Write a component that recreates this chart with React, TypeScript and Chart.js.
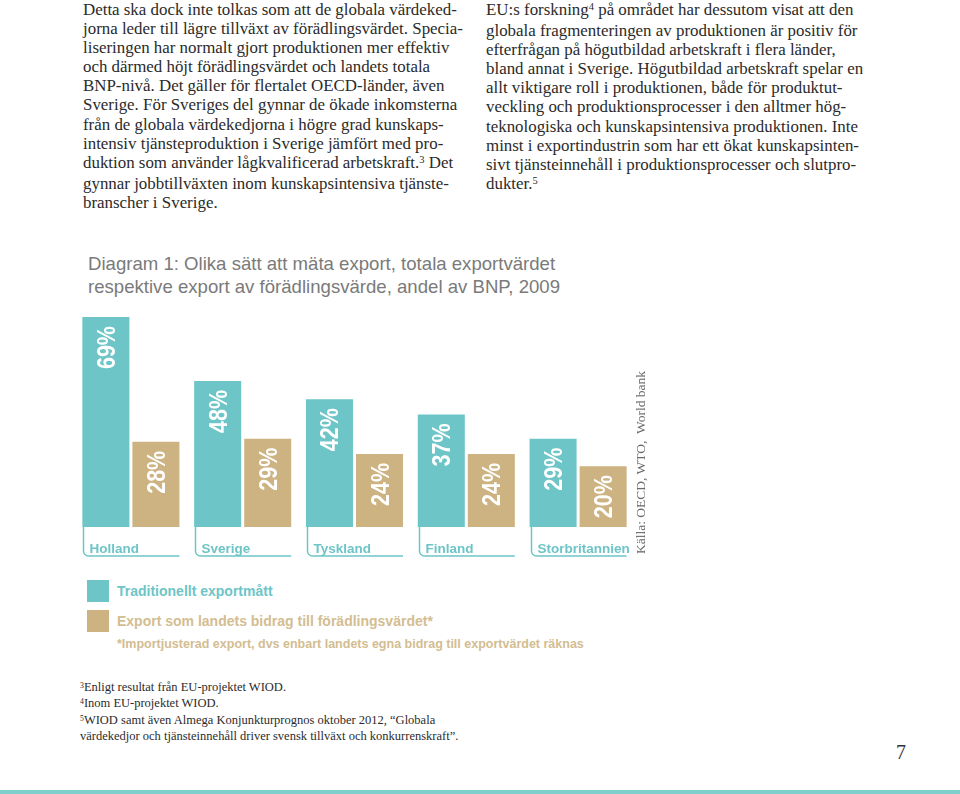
import React, { useEffect, useRef } from "react";
import { Chart, registerables } from "chart.js";

Chart.register(...registerables);

// ---------- data ----------
const countries = ["Holland", "Sverige", "Tyskland", "Finland", "Storbritannien"];
const traditional = [69, 48, 42, 37, 29];
const valueAdded = [28, 29, 24, 24, 20];
const seriesNames = [
  "Traditionellt exportmått",
  "Export som landets bidrag till förädlingsvärdet*",
];
const yMin = 0;
const yMax = 70;

const titleLines = [
  "Diagram 1: Olika sätt att mäta export, totala exportvärdet",
  "respektive export av förädlingsvärde, andel av BNP, 2009",
];
const sourceText = "Källa: OECD, WTO,  World bank";
const legendNote = "*Importjusterad export, dvs enbart landets egna bidrag till exportvärdet räknas";

const leftColumn = [
  "Detta ska dock inte tolkas som att de globala värdeked-",
  "jorna leder till lägre tillväxt av förädlingsvärdet. Specia-",
  "liseringen har normalt gjort produktionen mer effektiv",
  "och därmed höjt förädlingsvärdet och landets totala",
  "BNP-nivå. Det gäller för flertalet OECD-länder, även",
  "Sverige. För Sveriges del gynnar de ökade inkomsterna",
  "från de globala värdekedjorna i högre grad kunskaps-",
  "intensiv tjänsteproduktion i Sverige jämfört med pro-",
  "duktion som använder lågkvalificerad arbetskraft.^3 Det",
  "gynnar jobbtillväxten inom kunskapsintensiva tjänste-",
  "branscher i Sverige.",
];
const rightColumn = [
  "EU:s forskning^4 på området har dessutom visat att den",
  "globala fragmenteringen av produktionen är positiv för",
  "efterfrågan på högutbildad arbetskraft i flera länder,",
  "bland annat i Sverige. Högutbildad arbetskraft spelar en",
  "allt viktigare roll i produktionen, både för produktut-",
  "veckling och produktionsprocesser i den alltmer hög-",
  "teknologiska och kunskapsintensiva produktionen. Inte",
  "minst i exportindustrin som har ett ökat kunskapsinten-",
  "sivt tjänsteinnehåll i produktionsprocesser och slutpro-",
  "dukter.^5",
];
const footnotes = [
  "^3Enligt resultat från EU-projektet WIOD.",
  "^4Inom EU-projektet WIOD.",
  "^5WIOD samt även Almega Konjunkturprognos oktober 2012, “Globala",
  "värdekedjor och tjänsteinnehåll driver svensk tillväxt och konkurrenskraft”.",
];
const pageNumber = "7";

// ---------- styles ----------
const TEAL = "#6dc5c7";
const GOLD = "#cdb381";
const GOLD_TEXT = "#d3bd91";
const SANS = "'Liberation Sans', Arial, Helvetica, sans-serif";
const SERIF = "'Liberation Serif', 'Times New Roman', serif";

function renderLine(line: string, supSize = "0.62em", supTop = "-0.45em") {
  const parts = line.split(/\^(\d)/);
  return parts.map((p, i) =>
    i % 2 === 1 ? (
      <span
        key={i}
        style={{ fontSize: supSize, position: "relative", top: supTop, verticalAlign: "baseline" }}
      >
        {p}
      </span>
    ) : (
      <React.Fragment key={i}>{p}</React.Fragment>
    )
  );
}

const decorPlugin = {
  id: "barDecor",
  afterDatasetsDraw(chart: any) {
    const ctx = chart.ctx as CanvasRenderingContext2D;
    const metas = [chart.getDatasetMeta(0), chart.getDatasetMeta(1)];
    ctx.save();
    metas.forEach((meta: any, di: number) => {
      meta.data.forEach((bar: any, i: number) => {
        const v = chart.data.datasets[di].data[i];
        ctx.save();
        ctx.translate(bar.x, bar.y + 9);
        ctx.rotate(-Math.PI / 2);
        ctx.scale(0.86, 1);
        ctx.font = `bold 25px ${SANS}`;
        ctx.fillStyle = "#ffffff";
        ctx.textAlign = "right";
        ctx.textBaseline = "alphabetic";
        ctx.fillText(v + "%", 0, 9);
        ctx.restore();
      });
    });
    const m0: any = metas[0];
    const m1: any = metas[1];
    m0.data.forEach((bar: any, i: number) => {
      const g = m1.data[i];
      const L = Math.round(bar.x - bar.width / 2) + 1.5;
      const R = g.x + g.width / 2;
      const B = bar.base;
      ctx.beginPath();
      ctx.strokeStyle = TEAL;
      ctx.lineWidth = 1.5;
      ctx.moveTo(L, B);
      ctx.lineTo(L, B + 24);
      ctx.arcTo(L, B + 29, L + 5, B + 29, 5);
      ctx.lineTo(R, B + 29);
      ctx.stroke();
      ctx.font = `bold 13.5px ${SANS}`;
      ctx.fillStyle = TEAL;
      ctx.textAlign = "left";
      ctx.textBaseline = "alphabetic";
      ctx.fillText(chart.data.labels[i], L + 6, B + 26);
    });
    ctx.restore();
  },
};

function BarChart() {
  const ref = useRef<HTMLCanvasElement | null>(null);
  useEffect(() => {
    if (!ref.current) return;
    const chart = new Chart(ref.current, {
      type: "bar",
      data: {
        labels: countries,
        datasets: [
          {
            label: seriesNames[0],
            data: traditional,
            backgroundColor: TEAL,
            categoryPercentage: 0.895,
            barPercentage: 0.94,
          },
          {
            label: seriesNames[1],
            data: valueAdded,
            backgroundColor: GOLD,
            categoryPercentage: 0.895,
            barPercentage: 0.94,
          },
        ],
      },
      options: {
        animation: false,
        responsive: false,
        layout: { padding: { left: 15, right: 26, top: 14, bottom: 43 } },
        plugins: {
          legend: { display: false },
          tooltip: { enabled: false },
          title: { display: false },
        },
        scales: {
          x: { display: false },
          y: { display: false, min: yMin, max: yMax },
        },
      },
      plugins: [decorPlugin],
    } as any);
    return () => chart.destroy();
  }, []);
  return (
    <canvas
      ref={ref}
      width={600}
      height={270}
      style={{ position: "absolute", left: 60, top: 300, width: 600, height: 270 }}
    />
  );
}

export default function App() {
  const colStyle: React.CSSProperties = {
    position: "absolute",
    top: 0,
    fontFamily: SERIF,
    fontSize: 16.9,
    lineHeight: "19.1px",
    color: "#2b2b2b",
    whiteSpace: "pre",
  };
  return (
    <div
      style={{
        position: "absolute",
        left: 0,
        top: 0,
        width: 960,
        height: 794,
        background: "#ffffff",
        overflow: "hidden",
      }}
    >
      <div style={{ ...colStyle, left: 83 }}>
        {leftColumn.map((l, i) => (
          <div key={i}>{renderLine(l)}</div>
        ))}
      </div>
      <div style={{ ...colStyle, left: 486 }}>
        {rightColumn.map((l, i) => (
          <div key={i}>{renderLine(l)}</div>
        ))}
      </div>

      <div
        style={{
          position: "absolute",
          left: 88,
          top: 252,
          fontFamily: SANS,
          fontSize: 18.6,
          lineHeight: "23px",
          color: "#7a7a7a",
          whiteSpace: "pre",
        }}
      >
        {titleLines.map((l, i) => (
          <div key={i}>{l}</div>
        ))}
      </div>

      <BarChart />

      <div
        style={{
          position: "absolute",
          left: 633,
          top: 554,
          height: 16,
          lineHeight: "16px",
          transformOrigin: "0 0",
          transform: "rotate(-90deg)",
          fontFamily: SERIF,
          fontSize: 13.5,
          color: "#6a6a6a",
          whiteSpace: "pre",
        }}
      >
        {sourceText}
      </div>

      <div style={{ position: "absolute", left: 87, top: 580, width: 22, height: 22, background: TEAL }} />
      <div style={{ position: "absolute", left: 87, top: 610, width: 22, height: 22, background: GOLD }} />
      <div
        style={{
          position: "absolute",
          left: 117,
          top: 582,
          fontFamily: SANS,
          fontWeight: "bold",
          fontSize: 14,
          lineHeight: "18px",
          color: TEAL,
          whiteSpace: "pre",
        }}
      >
        {seriesNames[0]}
      </div>
      <div
        style={{
          position: "absolute",
          left: 117,
          top: 612,
          fontFamily: SANS,
          fontWeight: "bold",
          fontSize: 14,
          lineHeight: "18px",
          color: GOLD_TEXT,
          whiteSpace: "pre",
        }}
      >
        {seriesNames[1]}
      </div>
      <div
        style={{
          position: "absolute",
          left: 117,
          top: 636,
          fontFamily: SANS,
          fontWeight: "bold",
          fontSize: 12.5,
          lineHeight: "16px",
          color: GOLD_TEXT,
          whiteSpace: "pre",
        }}
      >
        {legendNote}
      </div>

      <div
        style={{
          position: "absolute",
          left: 80,
          top: 680,
          fontFamily: SERIF,
          fontSize: 12.5,
          lineHeight: "15.3px",
          color: "#2b2b2b",
          whiteSpace: "pre",
        }}
      >
        {footnotes.map((l, i) => (
          <div key={i}>{renderLine(l, "0.62em", "-0.4em")}</div>
        ))}
      </div>

      <div
        style={{
          position: "absolute",
          left: 896,
          top: 740,
          fontFamily: SERIF,
          fontSize: 20,
          lineHeight: "24px",
          color: "#333333",
        }}
      >
        {pageNumber}
      </div>

      <div style={{ position: "absolute", left: 0, top: 790, width: 960, height: 4, background: "#7fcfcd" }} />
    </div>
  );
}
